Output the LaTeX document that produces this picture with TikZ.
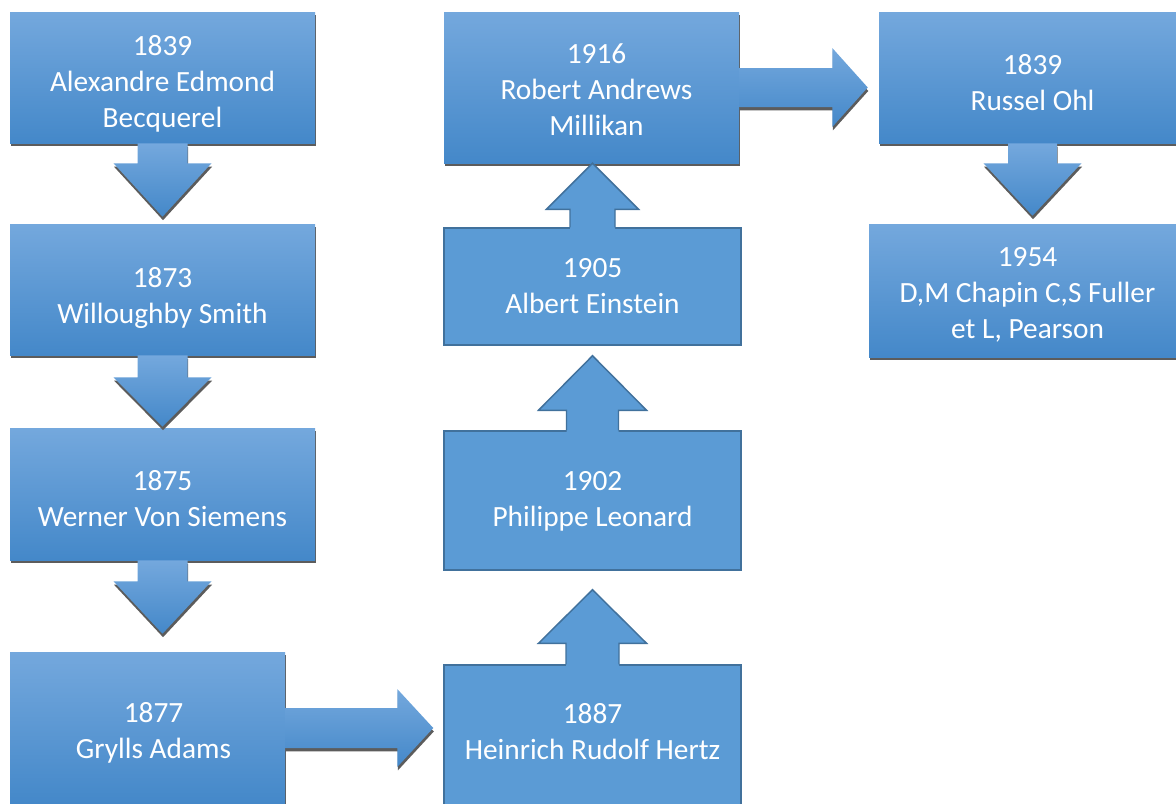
\documentclass[tikz,border=0pt]{standalone}
\usepackage{fontspec}
\setmainfont{Carlito}
\usetikzlibrary{calc,shadows}
\definecolor{gtop}{RGB}{116,168,221}
\definecolor{gbot}{RGB}{68,136,201}
\definecolor{flatc}{RGB}{91,155,213}
\definecolor{flatline}{RGB}{65,113,156}
\definecolor{shadowc}{RGB}{92,92,92}
% [label options]{style}{name}{x1}{y1}{x2}{y2}{text}
\newcommand\mybox[8][]{\node[#2, minimum width={(#6-#4)*0.75pt}, minimum height={(#7-#5)*0.75pt},
  label={[txt, #1]center:{#8}}] (#3) at ({(#4+#6)/2},{(#5+#7)/2}) {};}
% vertical gradient arrow: style, from, to, shaft hw, base offset, head hw, tip offset
\newcommand\varr[7]{\path[#1] ($(#2)+(-#4,0)$) -- ($(#2)+(#4,0)$) -- ($(#2)+(#4,#5)$) -- ($(#2)+(#6,#5)$) -- ($(#2 |- #3)+(0,#7)$) -- ($(#2)+(-#6,#5)$) -- ($(#2)+(-#4,#5)$) -- cycle;}
% horizontal gradient arrow
\newcommand\harr[7]{\path[#1] ($(#2)+(0,-#4)$) -- ($(#2)+(#5,-#4)$) -- ($(#2)+(#5,-#6)$) -- ($(#2 -| #3)+(#7,0)$) -- ($(#2)+(#5,#6)$) -- ($(#2)+(#5,#4)$) -- ($(#2)+(0,#4)$) -- cycle;}
% flat up arrow: from, to, shaft hw, base offset, head hw, tip offset
\newcommand\uarr[6]{%
 \fill[flatc] ($(#1)+(-#3,1.6)$) -- ($(#1)+(-#3,#4)$) -- ($(#1)+(-#5,#4)$) -- ($(#1 |- #2)+(0,#6)$) -- ($(#1)+(#5,#4)$) -- ($(#1)+(#3,#4)$) -- ($(#1)+(#3,1.6)$) -- cycle;
 \draw[fline] ($(#1)+(-#3,0)$) -- ($(#1)+(-#3,#4)$) -- ($(#1)+(-#5,#4)$) -- ($(#1 |- #2)+(0,#6)$) -- ($(#1)+(#5,#4)$) -- ($(#1)+(#3,#4)$) -- ($(#1)+(#3,0)$);}
\begin{document}
\begin{tikzpicture}[x=0.75pt,y=-0.75pt,
 gshade/.style={top color=gtop,bottom color=gbot,draw=none,
   drop shadow={shadow xshift=0.4pt,shadow yshift=-2.6pt,fill=shadowc,opacity=1}},
 txt/.style={text=white, align=center, font=\fontsize{22}{27}\selectfont, inner sep=0pt},
 gbox/.style={gshade, rectangle, inner sep=0pt},
 fbox/.style={rectangle, fill=flatc, draw=flatline, line width=1.1pt, inner sep=0pt},
 fline/.style={draw=flatline, line width=1.1pt, line join=miter}
]
\useasboundingbox (0,0) rectangle (1176,803);
\clip (0,0) rectangle (1176,803);

% boxes
\mybox[yshift=-4.5pt]{gbox}{L1}{10}{12}{315}{143}{1839\\Alexandre Edmond\\Becquerel}
\mybox[yshift=-6pt]{gbox}{L2}{10}{224}{315}{355}{1873\\Willoughby Smith}
\mybox[yshift=-3.75pt]{gbox}{L3}{10}{428}{315}{560}{1875\\Werner Von Siemens}
\mybox[xshift=4.5pt,yshift=-3.75pt]{gbox}{L4}{10}{652}{285}{804}{1877\\Grylls Adams}
\mybox[yshift=3pt]{fbox}{M1}{444}{665}{741}{806}{1887\\Heinrich Rudolf Hertz}
\mybox[yshift=-0.75pt]{fbox}{M2}{444}{431}{741}{570}{1902\\Philippe Leonard}
\mybox{fbox}{M3}{444}{228}{741}{345}{1905\\Albert Einstein}
\mybox[xshift=3.75pt,yshift=-1.5pt]{gbox}{M4}{444}{12}{739}{163}{1916\\Robert Andrews\\Millikan}
\mybox[yshift=-3.75pt]{gbox}{R1}{879}{12}{1186}{143}{1839\\Russel Ohl}
\mybox[yshift=-3pt]{gbox}{R2}{869}{224}{1186}{357}{1954\\D,M Chapin C,S Fuller\\et L, Pearson}

% connectors
\varr{gshade}{L1.south}{L2.north}{25}{20}{49}{-7}
\varr{gshade}{L2.south}{L3.north}{25}{22}{49}{-1}
\varr{gshade}{L3.south}{L4.north}{25}{21}{49}{-18}
\harr{gshade}{L4.east}{M1.west}{20}{112}{39}{-10}
\uarr{M1.north}{M2.south}{26.5}{-21}{54}{19}
\uarr{M2.north}{M3.south}{26}{-20}{54}{10}
\uarr{M3.north}{M4.south}{22.5}{-18}{46}{0}
\harr{gshade}{M4.east}{R1.west}{19.5}{93}{39.5}{-11}
\varr{gshade}{R1.south}{R2.north}{24.5}{20}{49}{-8}
\end{tikzpicture}
\end{document}
